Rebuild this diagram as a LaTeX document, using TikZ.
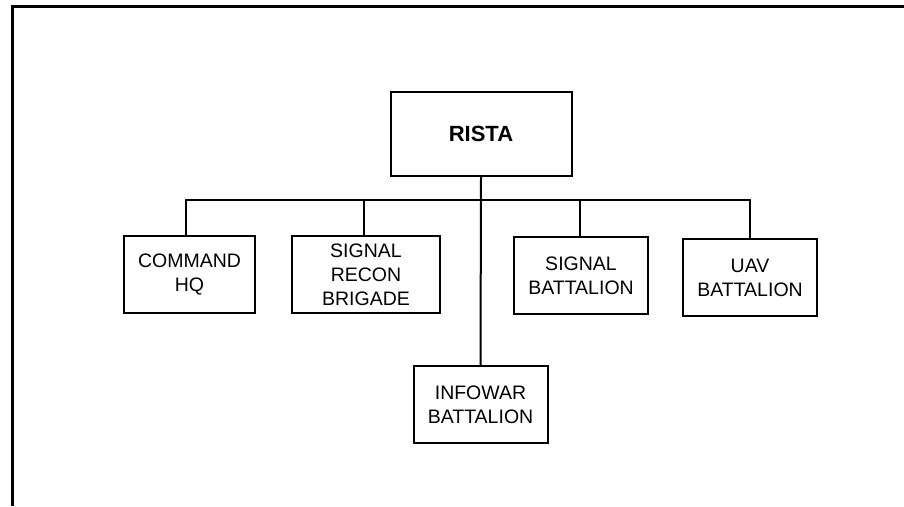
\documentclass[tikz,border=0pt]{standalone}
\usepackage{fontspec}
\setmainfont{Liberation Sans}
\usepackage{tikz}
\usetikzlibrary{positioning,calc}
\tikzset{
  unit/.style={rectangle,draw=black,line width=2pt,align=center,inner sep=0pt,minimum width=134pt,minimum height=77pt,font=\fontsize{19.5}{24}\selectfont},
  topunit/.style={unit,minimum width=181pt,minimum height=84pt,font=\fontsize{22}{26}\selectfont\bfseries},
  link/.style={line width=2pt},
  frameline/.style={line width=3pt}
}
\begin{document}
\begin{tikzpicture}[x=1pt,y=-1pt]
  \useasboundingbox (0,0) rectangle (904,506);
  \draw[frameline] (12,506) -- (12,6) -- (904,6);
  \node[topunit] (rista) at (481,134) {RISTA};
  \node[unit,minimum width=131pt] (cmd) at (189.5,274.5) {COMMAND\\HQ};
  \node[unit,minimum width=148pt] (recon) at (366,274.5) {SIGNAL\\RECON\\BRIGADE};
  \node[unit] (sigbn) at (581,275.5) {SIGNAL\\BATTALION};
  \node[unit] (uav) at (750,277.5) {UAV\\BATTALION};
  \node[unit] (infowar) at (480.5,404.5) {INFOWAR\\BATTALION};
  \coordinate (bus) at (0,200);
  \draw[link] (rista.south) -- (infowar.north);
  \draw[link] ([xshift=-3.5pt]cmd.north) -- ([xshift=-3.5pt]cmd.north |- bus) -- (uav.north |- bus) -- (uav.north);
  \draw[link] ([xshift=-2pt]recon.north) -- ([xshift=-2pt]recon.north |- bus);
  \draw[link] ([xshift=-1pt]sigbn.north) -- ([xshift=-1pt]sigbn.north |- bus);
\end{tikzpicture}
\end{document}
